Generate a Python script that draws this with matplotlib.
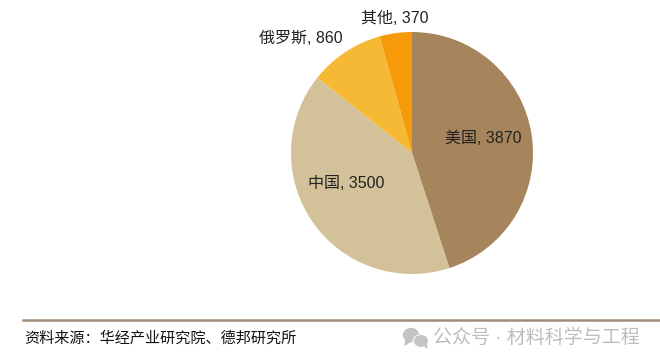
#!/usr/bin/env python3
from matplotlib import pyplot as plt
from matplotlib.patches import Ellipse, Polygon

W, H = 660, 364

countries = ["美国", "中国", "俄罗斯", "其他"]
reserves = [3870, 3500, 860, 370]
colors = ["#A6845C", "#D3C299", "#F5B935", "#F79A0A"]
source_text = "资料来源：华经产业研究院、德邦研究所"
mark_text = "公众号 · 材料科学与工程"

# label centres in pixels, measured from top left
label_pos = [(483, 138), (346, 183), (301, 38), (395, 18)]

plt.rcParams["font.family"] = ["Liberation Sans", "Noto Sans CJK SC"]


def px(x, y):
    return x / W, 1 - y / H


fig = plt.figure(figsize=(W / 100, H / 100), dpi=100, facecolor="white")

# pie centre about (412, 153), radius 121
ax = fig.add_axes([291 / W, 1 - 274 / H, 242 / W, 242 / H])
ax.pie(reserves, colors=colors, startangle=90, counterclock=False, radius=1,
       wedgeprops={"linewidth": 0})
ax.set_xlim(-1, 1)
ax.set_ylim(-1, 1)

for name, val, pos in zip(countries, reserves, label_pos):
    x, y = px(*pos)
    fig.text(x, y, f"{name}, {val}", fontsize=11.5, color="#222222", ha="center", va="center")

# rule above the source line
x0, y0 = px(23, 320)
x1, _ = px(660, 320)
fig.add_artist(plt.Line2D([x0, x1], [y0, y0], color="#A08C78", linewidth=1.8))

x, y = px(24, 338)
fig.text(x, y, source_text, fontsize=10.9, color="#111111", ha="left", va="center")

# watermark, wechat style icon plus text
overlay = fig.add_axes([0, 0, 1, 1], facecolor="none")
overlay.set_xlim(0, W)
overlay.set_ylim(H, 0)
overlay.axis("off")
grey = "#C4C4C4"
overlay.add_patch(Ellipse((411, 335), 15, 13, color=grey))
overlay.add_patch(Polygon([(406, 339), (405, 345), (411, 341)], color=grey))
overlay.add_patch(Ellipse((421, 341), 15, 12, color="white"))
overlay.add_patch(Ellipse((421, 341), 12.5, 10.5, color=grey))
overlay.add_patch(Polygon([(424, 345), (427, 348), (426, 343)], color=grey))

x, y = px(433, 338)
fig.text(x, y, mark_text, fontsize=13.7, color="#BDBDBD", ha="left", va="center")

fig.savefig("out.png", dpi=100)
